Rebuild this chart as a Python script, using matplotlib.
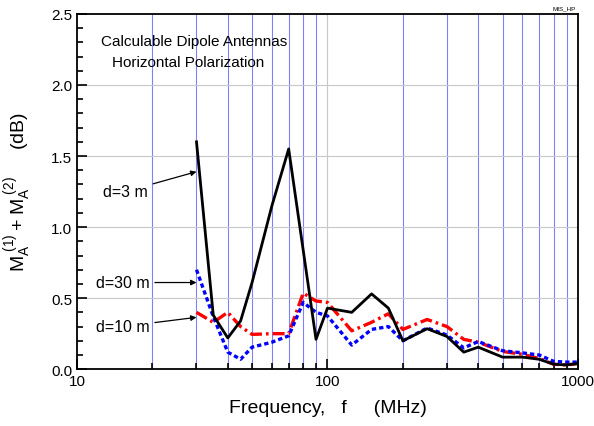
import numpy as np
import matplotlib
matplotlib.use('Agg')
import matplotlib.pyplot as plt
from matplotlib.ticker import MultipleLocator, FixedLocator, NullFormatter

plt.rcParams['font.family'] = ['Liberation Sans', 'DejaVu Sans']

# d=3 m (black, solid)
f_3m = [30, 35, 40, 45, 50, 60, 70, 90, 100, 125, 150, 175, 200, 250, 300,
        350, 400, 500, 600, 700, 800, 900, 1000]
m_3m = [1.60, 0.38, 0.22, 0.34, 0.61, 1.15, 1.55, 0.21, 0.43, 0.40, 0.53, 0.43,
        0.20, 0.285, 0.23, 0.12, 0.155, 0.085, 0.085, 0.07, 0.035, 0.03, 0.04]

# d=10 m (red, dash-dot) and d=30 m (blue, dashed)
f_all = [30, 35, 40, 45, 50, 60, 70, 80, 90, 100, 125, 150, 175, 200, 250, 300,
         350, 400, 500, 600, 700, 800, 900, 1000]
m_10m = [0.40, 0.33, 0.40, 0.30, 0.245, 0.25, 0.25, 0.535, 0.48, 0.47, 0.27,
         0.33, 0.39, 0.28, 0.35, 0.30, 0.21, 0.19, 0.125, 0.105, 0.075, 0.035,
         0.03, 0.04]
m_30m = [0.70, 0.37, 0.12, 0.07, 0.155, 0.19, 0.235, 0.47, 0.40, 0.375, 0.17,
         0.28, 0.30, 0.20, 0.29, 0.24, 0.15, 0.195, 0.13, 0.115, 0.10, 0.055,
         0.05, 0.05]

fig = plt.figure(figsize=(5.94, 4.27), dpi=100)
ax = fig.add_axes([0.1296, 0.133, 0.8434, 0.832])

ax.set_xscale('log')
ax.set_xlim(10, 1000)
ax.set_ylim(0, 2.5)

# grid: blue verticals at minor decades, gray at 100 and horizontal majors
for f in list(range(20, 100, 10)) + list(range(200, 1000, 100)):
    ax.axvline(f, color='#8080ff', lw=0.8, zorder=0)
ax.axvline(100, color='#c8c8c8', lw=0.8, zorder=0)
for y in [0.5, 1.0, 1.5, 2.0]:
    ax.axhline(y, color='#c8c8c8', lw=0.8, zorder=0)

ax.plot(f_3m, m_3m, color='black', lw=2.0, zorder=3)
ax.plot(f_all, m_10m, color='red', lw=2.4, dashes=(3.6, 1.2, 0.8, 1.2), zorder=2)
ax.plot(f_all, m_30m, color='blue', lw=2.4, dashes=(1.3, 0.9), zorder=2)

ax.xaxis.set_major_locator(FixedLocator([10, 100, 1000]))
ax.set_xticklabels(['10', '100', '1000'])
ax.xaxis.set_minor_formatter(NullFormatter())
ax.yaxis.set_major_locator(MultipleLocator(0.5))
ax.yaxis.set_minor_locator(MultipleLocator(0.1))
ax.set_yticks(np.arange(0, 2.51, 0.5))
ax.set_yticklabels([f'{v:.1f}' for v in np.arange(0, 2.51, 0.5)])
ax.tick_params(which='both', direction='in', top=False, right=False,
               labelsize=11, width=1.2)
ax.tick_params(which='major', length=7)
ax.tick_params(which='minor', length=4)
for s in ax.spines.values():
    s.set_linewidth(1.3)

ax.set_xlabel('Frequency,   f     (MHz)', fontsize=14, labelpad=8)
ax.set_ylabel(r'$\mathregular{M_A^{\ (1)} + M_A^{\ (2)}}$     (dB)',
              fontsize=14, labelpad=12)

ax.text(0.047, 0.925, 'Calculable Dipole Antennas', transform=ax.transAxes,
        fontsize=11, va='center')
ax.text(0.07, 0.865, 'Horizontal Polarization', transform=ax.transAxes,
        fontsize=11, va='center')
ax.text(0.995, 1.01, 'MIS_HP', transform=ax.transAxes, fontsize=4.5,
        ha='right', va='bottom')

arrow = dict(arrowstyle='-|>', color='black', lw=0.9, mutation_scale=8,
             shrinkA=2, shrinkB=0)
ax.annotate('d=3 m', xy=(30, 1.39), xytext=(15.6, 1.25), fontsize=11.5,
            ha='center', va='center', arrowprops=arrow)
ax.annotate('d=30 m', xy=(30, 0.61), xytext=(15.2, 0.61), fontsize=11.5,
            ha='center', va='center', arrowprops=arrow)
ax.annotate('d=10 m', xy=(30, 0.365), xytext=(15.2, 0.30), fontsize=11.5,
            ha='center', va='center', arrowprops=arrow)

fig.savefig('out.png', dpi=100)
